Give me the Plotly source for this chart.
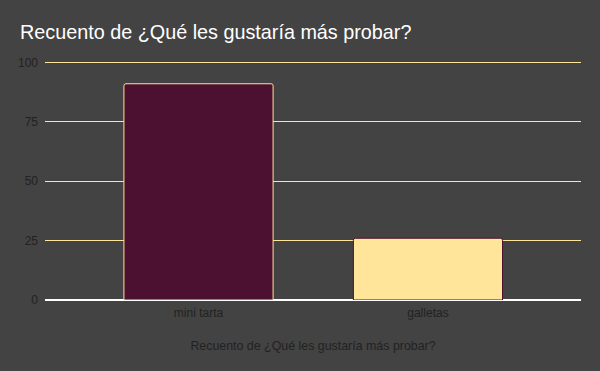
import plotly.graph_objects as go

categories = ["mini tarta", "galletas"]
counts = [91, 26]
bar_colors = ["#4c1130", "#ffe599"]
edge_colors = ["#ffe599", "#4c1130"]
y_ticks = [0, 25, 50, 75, 100]

fig = go.Figure(go.Bar(
    x=categories, y=counts,
    marker=dict(color=bar_colors, line=dict(color=edge_colors, width=1), cornerradius=2),
    width=0.65,
))

fig.update_layout(
    width=600, height=371,
    paper_bgcolor="#434343", plot_bgcolor="#434343",
    margin=dict(l=45, r=19, t=60, b=71),
    font=dict(family="Liberation Sans, Arial, sans-serif", size=12, color="#222222"),
    title=dict(text="Recuento de ¿Qué les gustaría más probar?", x=20/600, xanchor="left",
               y=1-32/371, yanchor="middle",
               font=dict(size=19.8, color="#ffffff")),
    showlegend=False,
)
fig.update_xaxes(range=[-0.669, 1.667], showgrid=False, showline=False, zeroline=False,
                 ticks="", ticklabelstandoff=4,
                 title=dict(text="Recuento de ¿Qué les gustaría más probar?", standoff=22,
                            font=dict(size=12.4, color="#222222")),
                 tickfont=dict(size=12, color="#222222"))
fig.update_yaxes(range=[0, 101], tickvals=y_ticks, showgrid=True, gridcolor="#ffe599", gridwidth=1,
                 zeroline=True, zerolinecolor="#ffffff", zerolinewidth=1.5, ticks="", ticklabelstandoff=6,
                 tickfont=dict(size=12, color="#222222"), showline=False)

fig.write_html("out.html", config={"displayModeBar": False},
               post_script="document.body.style.margin='0';")
